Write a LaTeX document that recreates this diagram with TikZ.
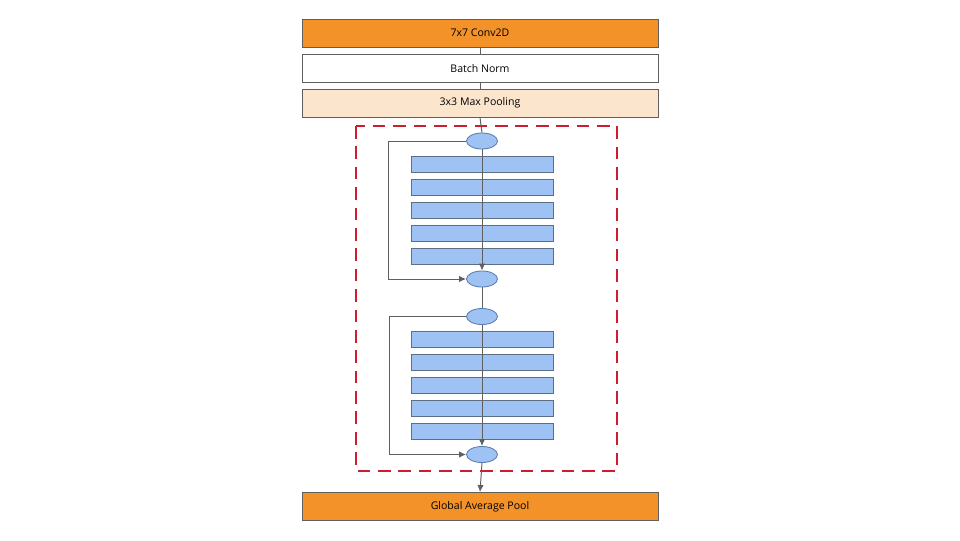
\documentclass[tikz,border=0pt]{standalone}
\usepackage{fontspec}
\setmainfont{Open Sans}
\usetikzlibrary{arrows.meta,shapes.geometric}
\definecolor{convorange}{HTML}{F39229}
\definecolor{poolpeach}{HTML}{FCE5CD}
\definecolor{layerblue}{HTML}{9FC2F4}
\definecolor{layeredge}{HTML}{5E6E84}
\definecolor{addedge}{HTML}{5A7DB0}
\definecolor{blockred}{HTML}{CC1E2E}
\definecolor{wiregray}{HTML}{5F5F5F}
\newlength{\StageWidth}
\newlength{\StageHeight}
\newlength{\LayerWidth}
\newlength{\LayerHeight}
\setlength{\StageWidth}{89mm}
\setlength{\StageHeight}{7mm}
\setlength{\LayerWidth}{35.5mm}
\setlength{\LayerHeight}{4mm}
\tikzset{
  stage/.style={draw=wiregray, line width=0.6pt, rectangle, minimum width=\StageWidth, minimum height=\StageHeight, inner sep=0pt, font=\fontsize{7.5}{9}\selectfont},
  layer/.style={draw=layeredge, fill=layerblue, line width=0.6pt, rectangle, minimum width=\LayerWidth, minimum height=\LayerHeight, inner sep=0pt},
  add op/.style={draw=addedge, fill=layerblue, line width=0.6pt, ellipse, minimum width=7.75mm, minimum height=4mm, inner sep=0pt},
  wire/.style={draw=wiregray, line width=0.7pt},
  res block/.style={draw=blockred, line width=1.8pt, dash pattern=on 9pt off 5.5pt}
}

\begin{document}
\begin{tikzpicture}[x=0.025cm, y=-0.025cm, >={Latex[length=5pt,width=4.5pt]}]
  \useasboundingbox (0,0) rectangle (960,540);

  \node[stage, fill=convorange] (conv) at (480,33) {7x7 Conv2D};
  \node[stage, fill=white] (bn) at (480,68.5) {Batch Norm};
  \node[stage, fill=poolpeach] (pool) at (480,103) {3x3 Max Pooling};

  \draw[res block] (356,126) rectangle (617,471);

  \node[add op] (s1in)  at (482,141) {};
  \node[add op] (s1out) at (482,279) {};
  \node[add op] (s2in)  at (482,316.5) {};
  \node[add op] (s2out) at (482,454.5) {};

  \foreach \i in {1,...,5} {
    \node[layer] (blk1-\i) at (482,{164+23*(\i-1)}) {};
    \node[layer] (blk2-\i) at (482,{339.5+23*(\i-1)}) {};
  }

  \node[stage, fill=convorange] (gap) at (480,506.5) {Global Average Pool};

  \coordinate (skip1) at (388,141);
  \coordinate (skip2) at (389,316.5);

  \draw[wire] (conv.south) -- (bn.north);
  \draw[wire] (bn.south) -- (pool.north);
  \draw[wire] (pool.south) -- (s1in.north);
  \draw[wire, ->] (s1in.south) -- (s1out.north);
  \draw[wire, ->] (s1in.west) -- (skip1) |- (s1out.west);
  \draw[wire] (s1out.south) -- (s2in.north);
  \draw[wire, ->] (s2in.south) -- (s2out.north);
  \draw[wire, ->] (s2in.west) -- (skip2) |- (s2out.west);
  \draw[wire, ->] (s2out.south) -- (gap.north);
\end{tikzpicture}
\end{document}
